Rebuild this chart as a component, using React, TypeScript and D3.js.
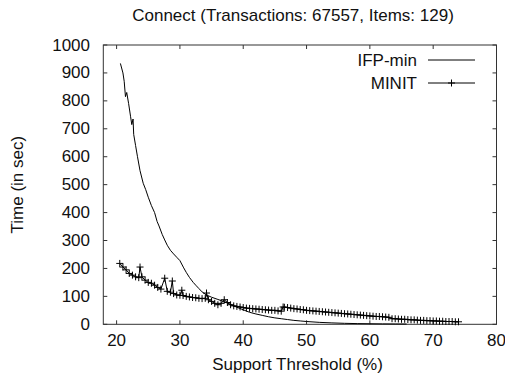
import React from "react";
import * as d3 from "d3";

const title = "Connect (Transactions: 67557, Items: 129)";
const xLabel = "Support Threshold (%)";
const yLabel = "Time (in sec)";
const xTicks = [20, 30, 40, 50, 60, 70, 80];
const yTicks = [0, 100, 200, 300, 400, 500, 600, 700, 800, 900, 1000];
const seriesNames = ["IFP-min", "MINIT"];

const ifpX = [20.6, 21.0, 21.2, 21.4, 21.6, 21.9, 22.2, 22.4, 22.6, 22.7, 23.0, 23.3, 23.7, 24.2, 24.6, 25.0, 25.5, 26.0, 26.4, 26.7, 27.2, 27.6, 28.0, 28.5, 29.0, 29.5, 30.0, 30.6, 31.0, 31.5, 32.1, 32.5, 33.0, 33.5, 34.2, 35.0, 36.0, 37.0, 38.0, 39.0, 40.0, 41.0, 42.0, 43.0, 44.0, 45.0, 46.0, 47.0, 48.0, 49.0, 50.0, 52.0, 54.0, 56.0, 58.0, 60.0, 62.0, 64.0, 65.8];
const ifpY = [934, 900, 870, 815, 830, 790, 745, 715, 735, 680, 640, 600, 550, 505, 482, 455, 425, 400, 368, 352, 322, 302, 283, 265, 252, 240, 228, 202, 186, 168, 150, 140, 128, 116, 105, 97, 89, 81, 71, 61, 52, 43, 37, 32, 27, 23, 20, 17, 14, 12, 10, 7, 5, 3.5, 2.5, 2, 1.5, 1.2, 1];

const minitX = [20.5, 21.0, 21.5, 22.0, 22.5, 23.0, 23.5, 23.7, 24.0, 24.5, 25.0, 25.5, 26.0, 26.5, 27.0, 27.6, 28.0, 28.5, 28.8, 29.0, 29.5, 30.0, 30.3, 30.5, 31.0, 31.5, 32.0, 32.5, 33.0, 33.5, 34.0, 34.2, 34.5, 35.0, 35.5, 36.0, 36.5, 37.0, 37.5, 38.0, 38.5, 39.0, 39.5, 40.0, 40.5, 41.0, 41.5, 42.0, 42.5, 43.0, 43.5, 44.0, 44.5, 45.0, 45.5, 46.0, 46.3, 46.5, 47.0, 47.5, 48.0, 48.5, 49.0, 49.5, 50.0, 50.5, 51.0, 51.5, 52.0, 52.5, 53.0, 53.5, 54.0, 54.5, 55.0, 55.5, 56.0, 56.5, 57.0, 57.5, 58.0, 58.5, 59.0, 59.5, 60.0, 60.5, 61.0, 61.5, 62.0, 62.5, 63.0, 63.5, 64.0, 64.5, 65.0, 65.5, 66.0, 66.5, 67.0, 67.5, 68.0, 68.5, 69.0, 69.5, 70.0, 70.5, 71.0, 71.5, 72.0, 72.5, 73.0, 73.5, 74.0];
const minitY = [218, 205, 195, 182, 176, 170, 167, 205, 170, 158, 150, 147, 140, 132, 126, 165, 118, 115, 155, 110, 105, 104, 122, 103, 100, 98, 96, 95, 93, 92, 93, 112, 88, 82, 75, 70, 75, 88, 78, 70, 66, 64, 62, 60, 58, 57, 56, 55, 54, 53, 52, 51, 50, 50, 48, 47, 62, 61, 60, 58, 56, 55, 53, 52, 50, 49, 48, 47, 46, 45, 44, 43, 42, 41, 40, 39, 38, 37, 36, 35, 34, 33, 32, 31, 30, 29, 28, 28, 27, 26, 25, 20, 20, 19, 18, 18, 17, 16, 16, 15, 14, 14, 13, 13, 12, 12, 11, 11, 10, 10, 10, 9, 9];

const W = 505, H = 383;
const L = 103.3, R = 496.5, T = 45, B = 324.3;
const FONT = "'Liberation Sans', Arial, Helvetica, sans-serif";
const FS = 17;

export default function App() {
  const x = d3.scaleLinear().domain([17.9, 80]).range([L, R]);
  const y = d3.scaleLinear().domain([0, 1000]).range([B, T]);
  const line = d3.line<[number, number]>().x(d => x(d[0])).y(d => y(d[1]));
  const ifp: [number, number][] = ifpX.map((v, i) => [v, ifpY[i]]);
  const minit: [number, number][] = minitX.map((v, i) => [v, minitY[i]]);
  const tl = 4;
  const frame = "#333";
  const txt = "#111";
  const ps = 3.5;
  const plus = (cx: number, cy: number, k: string) => (
    <path key={k} d={`M${cx - ps},${cy}H${cx + ps}M${cx},${cy - ps}V${cy + ps}`} stroke="#000" strokeWidth={1} fill="none" />
  );
  return (
    <svg width={W} height={H} style={{ position: "absolute", left: 0, top: 0, background: "#fff" }} fontFamily={FONT}>
      <rect x={0} y={0} width={W} height={H} fill="#fff" />
      <text x={293} y={15} fontSize={FS} textAnchor="middle" dominantBaseline="central" fill={txt}>{title}</text>
      {xTicks.map(t => (
        <g key={"xt" + t}>
          <line x1={x(t)} x2={x(t)} y1={B} y2={B - tl} stroke={frame} />
          <line x1={x(t)} x2={x(t)} y1={T} y2={T + tl} stroke={frame} />
          <text x={x(t)} y={340} fontSize={FS} textAnchor="middle" dominantBaseline="central" fill={txt}>{t}</text>
        </g>
      ))}
      {yTicks.map(t => (
        <g key={"yt" + t}>
          <line x1={L} x2={L + tl} y1={y(t)} y2={y(t)} stroke={frame} />
          <line x1={R} x2={R - tl} y1={y(t)} y2={y(t)} stroke={frame} />
          <text x={90} y={y(t)} fontSize={FS} textAnchor="end" dominantBaseline="central" fill={txt}>{t}</text>
        </g>
      ))}
      <rect x={L} y={T} width={R - L} height={B - T} fill="none" stroke={frame} strokeWidth={1} />
      <text x={297.5} y={364} fontSize={FS} textAnchor="middle" dominantBaseline="central" fill={txt}>{xLabel}</text>
      <text transform={`translate(17.5,${(T + B) / 2}) rotate(-90)`} fontSize={FS} textAnchor="middle" dominantBaseline="central" fill={txt}>{yLabel}</text>
      <path d={line(ifp) || ""} fill="none" stroke="#000" strokeWidth={1} />
      <path d={line(minit) || ""} fill="none" stroke="#000" strokeWidth={1} />
      {minit.map((d, i) => plus(x(d[0]), y(d[1]), "m" + i))}
      <text x={417} y={60} fontSize={FS} textAnchor="end" dominantBaseline="central" fill={txt}>{seriesNames[0]}</text>
      <line x1={428} x2={475} y1={60} y2={60} stroke="#000" />
      <text x={417} y={83} fontSize={FS} textAnchor="end" dominantBaseline="central" fill={txt}>{seriesNames[1]}</text>
      <line x1={428} x2={475} y1={83} y2={83} stroke="#000" />
      {plus(451.5, 83, "leg")}
    </svg>
  );
}
